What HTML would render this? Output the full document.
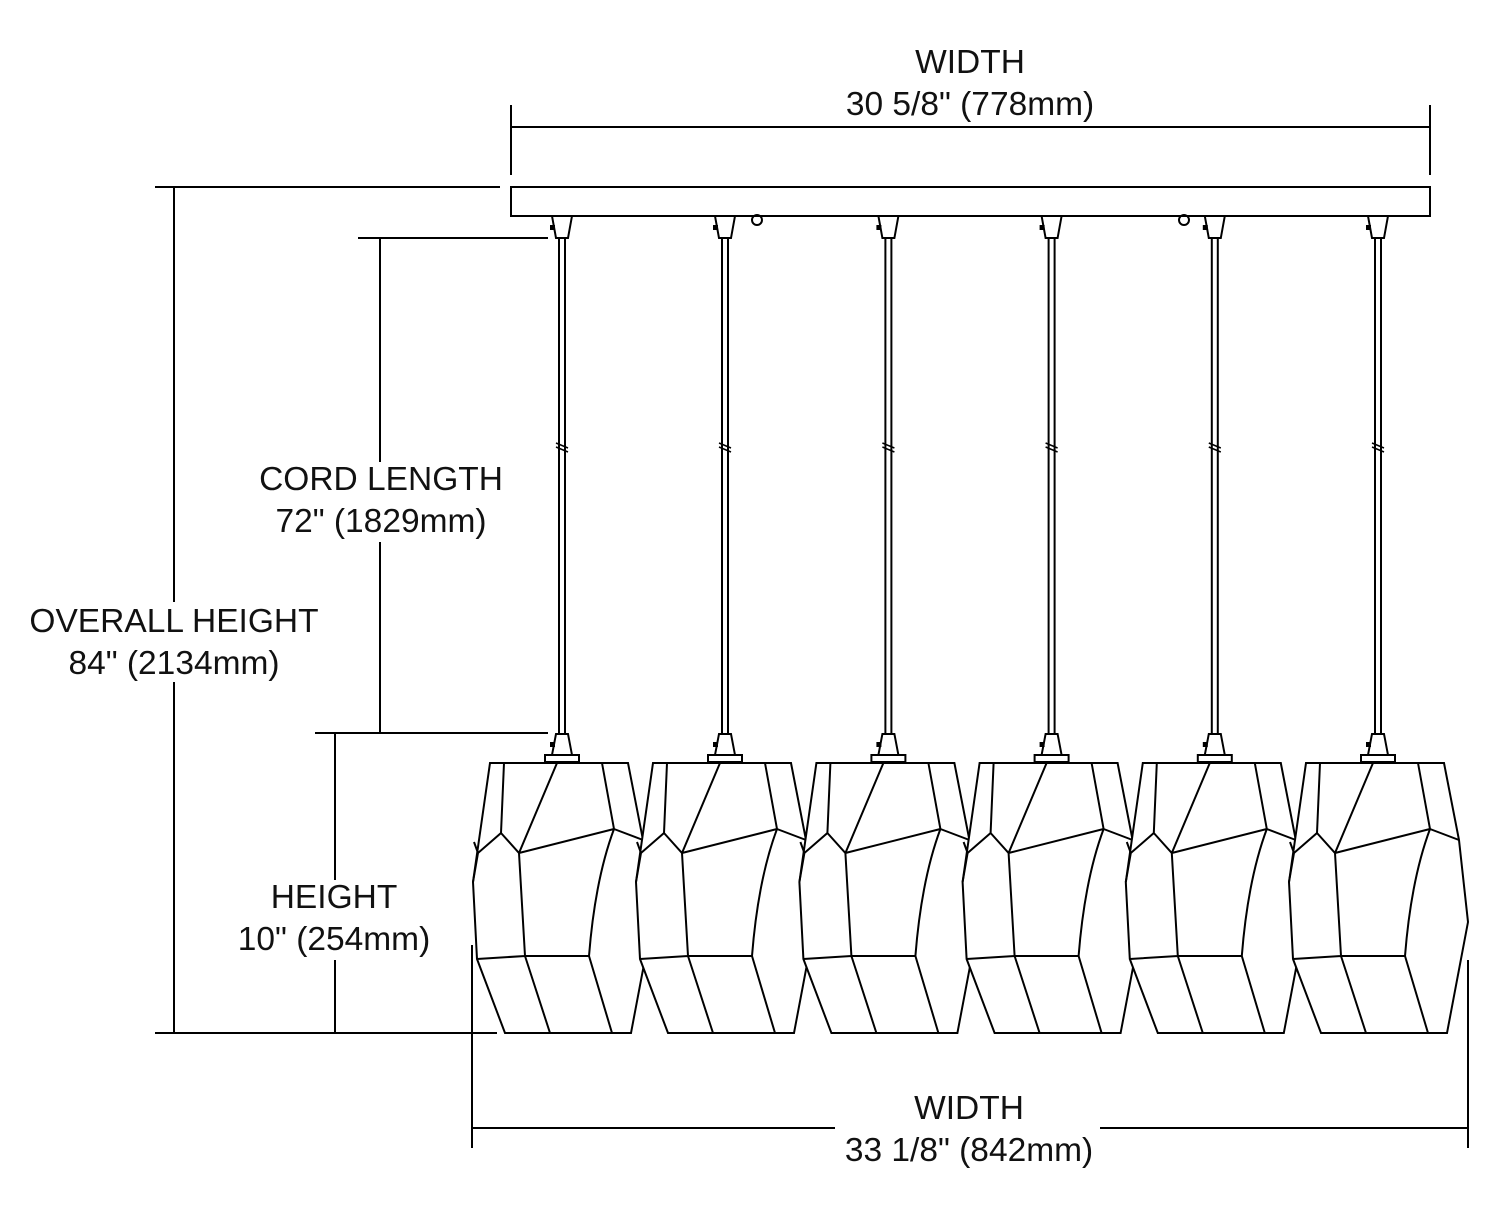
<!DOCTYPE html>
<html><head><meta charset="utf-8"><style>
html,body{margin:0;padding:0;background:#fff;}
svg{display:block;}
text{font-family:"Liberation Sans",sans-serif;font-size:33.5px;fill:#111;text-anchor:middle;}
</style></head><body>
<svg width="1500" height="1217" viewBox="0 0 1500 1217" xmlns="http://www.w3.org/2000/svg">
<defs>
<g id="p" fill="none" stroke="#000" stroke-width="2">
  <path d="M-10,216 L10,216 L6,238 L-6,238 Z" fill="#fff"/>
  <rect x="-12" y="225" width="5" height="5" fill="#000" stroke="none"/>
  <line x1="-3" y1="238" x2="-3" y2="735"/>
  <line x1="3" y1="238" x2="3" y2="735"/>
  <line x1="-6" y1="443" x2="6" y2="448" stroke-width="1.5"/>
  <line x1="-6" y1="447" x2="6" y2="452" stroke-width="1.5"/>
  <path d="M-6,734 L6,734 L10,755 L-10,755 Z" fill="#fff"/>
  <rect x="-12" y="742" width="5" height="5" fill="#000" stroke="none"/>
  <rect x="-17" y="755" width="34" height="7" fill="#fff"/>
  <path d="M-72,763 L-89,882 L-85,959 L-57,1033 L69,1033 L90,922 L81,840 L66,763 Z" fill="#fff"/>
  <path d="M-58,763 L-61,833 L-84,853 L-89,882 M-84,853 L-88,842 M-61,833 L-43,853 L-5,763 M-43,853 L52,829 L40,763 M52,829 L81,840 M52,829 Q33,880 27,956 M-43,853 L-37,956 M-85,959 L-37,956 L27,956 M-37,956 L-12,1033 M27,956 L50,1033"/>
</g>
</defs>
<g stroke="#000" stroke-width="2" fill="none">
  <rect x="511" y="187" width="919" height="29"/>
  <circle cx="757" cy="220" r="5"/>
  <circle cx="1184" cy="220" r="5"/>
  <line x1="511" y1="127" x2="1430" y2="127"/>
  <line x1="511" y1="105" x2="511" y2="175"/>
  <line x1="1430" y1="105" x2="1430" y2="175"/>
  <line x1="155" y1="187" x2="500" y2="187"/>
  <line x1="155" y1="1033" x2="497" y2="1033"/>
  <line x1="174" y1="187" x2="174" y2="1033"/>
  <line x1="358" y1="238" x2="548" y2="238"/>
  <line x1="315" y1="733" x2="548" y2="733"/>
  <line x1="380" y1="238" x2="380" y2="733"/>
  <line x1="335" y1="733" x2="335" y2="1033"/>
  <line x1="472" y1="1128" x2="1468" y2="1128"/>
  <line x1="472" y1="945" x2="472" y2="1148"/>
  <line x1="1468" y1="960" x2="1468" y2="1148"/>
</g>
<use href="#p" x="562"/>
<use href="#p" x="725"/>
<use href="#p" x="888.4"/>
<use href="#p" x="1051.6"/>
<use href="#p" x="1214.8"/>
<use href="#p" x="1378"/>
<g fill="#fff">
  <rect x="25" y="602" width="300" height="80"/>
  <rect x="250" y="462" width="260" height="80"/>
  <rect x="230" y="880" width="210" height="80"/>
  <rect x="835" y="1092" width="265" height="80"/>
</g>
<text x="970" y="73">WIDTH</text>
<text x="970" y="115">30 5/8" (778mm)</text>
<text x="174" y="632">OVERALL HEIGHT</text>
<text x="174" y="674">84" (2134mm)</text>
<text x="381" y="490">CORD LENGTH</text>
<text x="381" y="532">72" (1829mm)</text>
<text x="334" y="908">HEIGHT</text>
<text x="334" y="950">10" (254mm)</text>
<text x="969" y="1119">WIDTH</text>
<text x="969" y="1161">33 1/8" (842mm)</text>
</svg>
</body></html>
